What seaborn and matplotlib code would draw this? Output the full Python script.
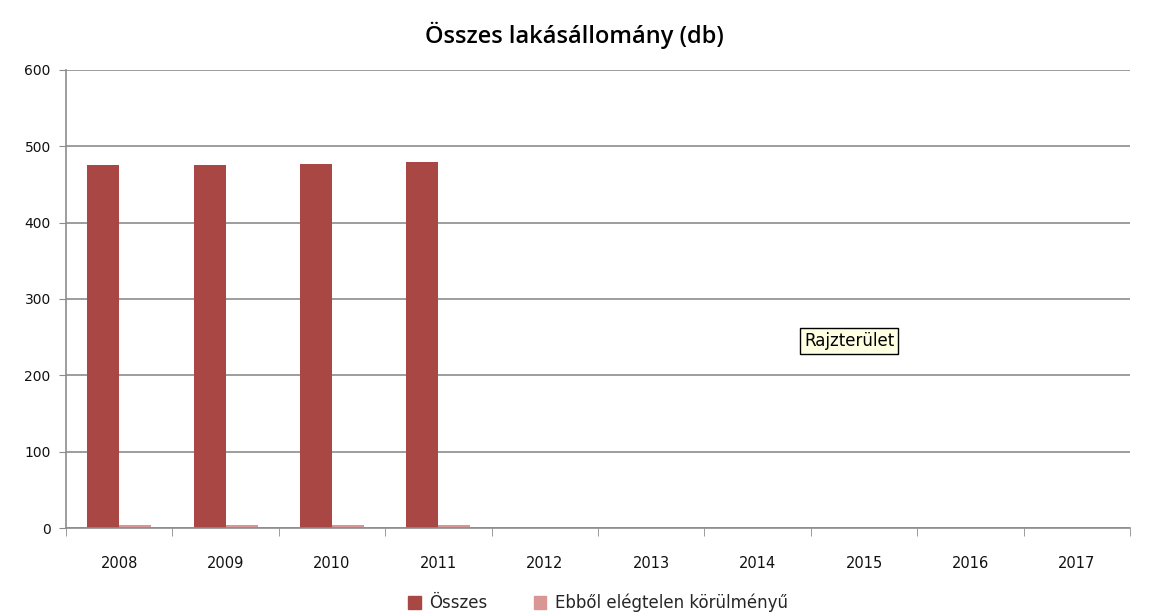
import pandas as pd
import numpy as np
import matplotlib
matplotlib.use("Agg")
import matplotlib.pyplot as plt
import seaborn as sns

# data
years = ["2008", "2009", "2010", "2011", "2012", "2013", "2014", "2015", "2016", "2017"]
osszes = [475, 475, 477, 480, 0, 0, 0, 0, 0, 0]
elegtelen = [4, 4, 4, 4, 0, 0, 0, 0, 0, 0]
series_names = ["Összes", "Ebből elégtelen körülményű"]
colors = ["#A94745", "#D99694"]

df = pd.DataFrame({
    "year": years * 2,
    "value": osszes + elegtelen,
    "series": [series_names[0]] * len(years) + [series_names[1]] * len(years),
})

sns.set_style("white")
plt.rcParams["font.family"] = ["DejaVu Sans"]

fig = plt.figure(figsize=(11.49, 6.16), dpi=100)
ax = fig.add_axes([66 / 1149, 1 - 528 / 616, (1130 - 66) / 1149, (528 - 70) / 616])

sns.barplot(data=df, x="year", y="value", hue="series", palette=colors,
            width=0.6, ax=ax, legend=False, saturation=1, linewidth=0, edgecolor="none")

ax.set_ylim(0, 600)
ax.set_xlim(-0.5, len(years) - 0.5)
ax.set_yticks(range(0, 601, 100))
ax.yaxis.grid(True, color="#8c8c8c", linewidth=1.2)
ax.set_axisbelow(True)
ax.set_xlabel("")
ax.set_ylabel("")

for s in ["top", "right"]:
    ax.spines[s].set_visible(False)
for s in ["left", "bottom"]:
    ax.spines[s].set_color("#8c8c8c")
    ax.spines[s].set_linewidth(1.2)

ax.tick_params(axis="y", length=5, color="#8c8c8c", labelsize=10, pad=6, left=True)
ax.tick_params(axis="x", length=0, labelsize=10.5, pad=20)
ax.set_xticks(np.arange(-0.5, len(years), 1), minor=True)
ax.tick_params(axis="x", which="minor", length=6, color="#8c8c8c", bottom=True)
for lbl in ax.get_xticklabels() + ax.get_yticklabels():
    lbl.set_color("#111111")

fig.text(0.5, 1 - 35 / 616, "Összes lakásállomány (db)", ha="center", va="center",
         fontsize=17, color="black", fontweight="semibold",
         family=["Open Sans", "DejaVu Sans"])

# legend at the bottom
handles = [plt.Rectangle((0, 0), 1, 1, color=c) for c in colors]
fig.legend(handles, series_names, loc="center", bbox_to_anchor=(598 / 1149, 1 - 603 / 616),
           ncol=2, frameon=False, fontsize=12, handlelength=0.75, handleheight=0.75,
           columnspacing=2.8, handletextpad=0.5, borderpad=0)

# tooltip label shown over the plot area
fig.text(849 / 1149, 1 - 341 / 616, "Rajzterület", ha="center", va="center", fontsize=12,
         color="black",
         bbox=dict(boxstyle="square,pad=0.25", facecolor="#FFFFE1", edgecolor="black", linewidth=1))

fig.savefig("out.png", dpi=100)
